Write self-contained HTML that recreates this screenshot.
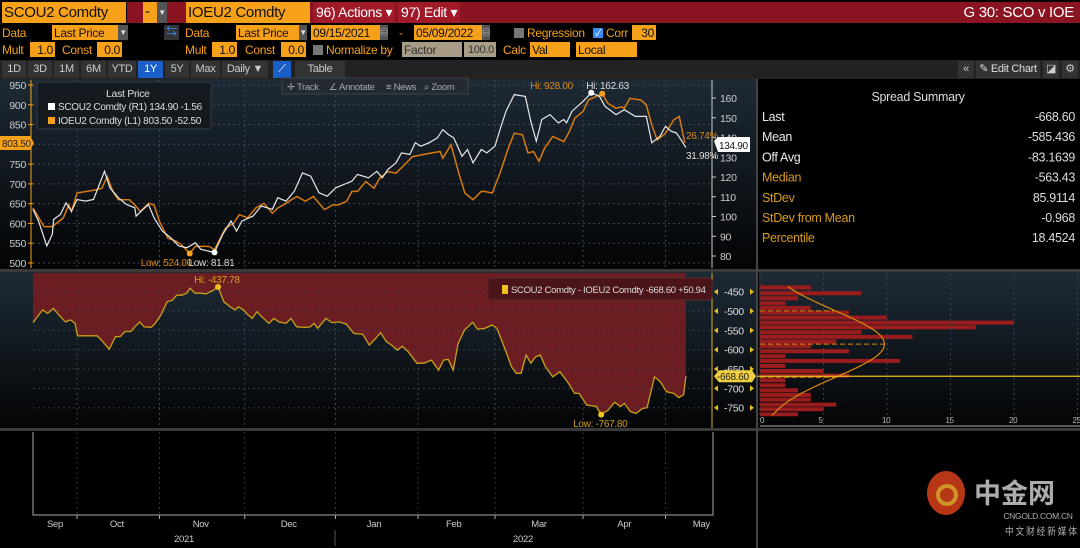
<!DOCTYPE html>
<html><head><meta charset="utf-8">
<style>
*{margin:0;padding:0;box-sizing:border-box}
body{width:1080px;height:548px;background:#000;overflow:hidden;position:relative;font-family:"Liberation Sans","Noto Sans CJK SC",sans-serif;font-size:12px;letter-spacing:-0.3px;color:#f5a01a}
.a{position:absolute;white-space:nowrap;line-height:1}
.ob{position:absolute;background:#f7a11a;color:#111;padding:1px 2px;height:15px;line-height:14px;white-space:nowrap;overflow:hidden}
.tan{position:absolute;background:#a89c86;color:#333;padding:1px 2px;height:15px;line-height:14px;overflow:hidden}
.dd{position:absolute;background:#555;color:#ddd;width:10px;height:15px;font-size:8px;text-align:center;line-height:15px}
.cb{position:absolute;width:10px;height:10px;background:#777}
.tab{position:absolute;top:61px;height:17px;line-height:17px;color:#ccc;font-size:11px;text-align:center;background:#333;white-space:nowrap;overflow:hidden}
svg{position:absolute;left:0;top:0}
</style></head><body>
<div class="a" style="left:127px;top:2px;width:953px;height:21px;background:#8a1422"></div>
<div class="ob" style="left:2px;top:2px;width:124px;height:21px;font-size:15px;line-height:20px">SCOU2 Comdty</div>
<div class="ob" style="left:143px;top:2px;width:14px;height:21px;font-size:15px;line-height:18px">-</div>
<div class="dd" style="left:157px;top:2px;height:21px;line-height:21px">▼</div>
<div class="ob" style="left:186px;top:2px;width:124px;height:21px;font-size:15px;line-height:20px">IOEU2 Comdty</div>
<div class="a" style="left:313px;top:2px;width:82px;height:21px;background:#a01a2a;color:#fff;font-size:14px;line-height:21px;padding-left:3px">96) Actions ▾</div>
<div class="a" style="left:398px;top:2px;width:62px;height:21px;background:#a01a2a;color:#fff;font-size:14px;line-height:21px;padding-left:3px">97) Edit ▾</div>
<div class="a" style="right:6px;top:5px;color:#fff;font-size:15px">G 30: SCO v IOE</div>

<div class="a" style="left:2px;top:27px">Data</div>
<div class="ob" style="left:52px;top:25px;width:66px">Last Price</div>
<div class="dd" style="left:118px;top:25px">▼</div>
<div class="a" style="left:164px;top:25px;width:15px;height:15px;background:#333;color:#3a8ef0;font-size:11px;text-align:center;line-height:15px">⇆</div>
<div class="a" style="left:185px;top:27px">Data</div>
<div class="ob" style="left:236px;top:25px;width:63px">Last Price</div>
<div class="dd" style="left:299px;top:25px;width:8px">▼</div>
<div class="ob" style="left:311px;top:25px;width:69px">09/15/2021</div>
<div class="dd" style="left:380px;top:25px;width:8px">▤</div>
<div class="a" style="left:399px;top:27px">-</div>
<div class="ob" style="left:414px;top:25px;width:68px">05/09/2022</div>
<div class="dd" style="left:482px;top:25px;width:8px">▤</div>
<div class="cb" style="left:514px;top:28px"></div>
<div class="a" style="left:527px;top:27px">Regression</div>
<div class="cb" style="left:593px;top:28px;background:#3a8ef0;color:#fff;font-size:9px;line-height:10px;text-align:center">✓</div>
<div class="a" style="left:606px;top:27px">Corr</div>
<div class="ob" style="left:632px;top:25px;width:24px;text-align:right">30</div>

<div class="a" style="left:2px;top:44px">Mult</div>
<div class="ob" style="left:30px;top:42px;width:25px;text-align:right">1.0</div>
<div class="a" style="left:62px;top:44px">Const</div>
<div class="ob" style="left:97px;top:42px;width:25px;text-align:right">0.0</div>
<div class="a" style="left:185px;top:44px">Mult</div>
<div class="ob" style="left:212px;top:42px;width:25px;text-align:right">1.0</div>
<div class="a" style="left:245px;top:44px">Const</div>
<div class="ob" style="left:281px;top:42px;width:25px;text-align:right">0.0</div>
<div class="cb" style="left:313px;top:45px"></div>
<div class="a" style="left:326px;top:44px">Normalize by</div>
<div class="tan" style="left:402px;top:42px;width:60px">Factor</div>
<div class="tan" style="left:464px;top:42px;width:32px;text-align:right;font-size:11px">100.0</div>
<div class="a" style="left:503px;top:44px">Calc</div>
<div class="ob" style="left:530px;top:42px;width:40px">Val</div>
<div class="ob" style="left:576px;top:42px;width:61px">Local</div>

<div class="a" style="left:0;top:60px;width:1080px;height:19px;background:#222"></div>
<div class="tab" style="left:2px;width:24px">1D</div>
<div class="tab" style="left:28px;width:24px">3D</div>
<div class="tab" style="left:54px;width:25px">1M</div>
<div class="tab" style="left:81px;width:25px">6M</div>
<div class="tab" style="left:108px;width:28px">YTD</div>
<div class="tab" style="left:138px;width:25px;background:#1a5fc8;color:#fff">1Y</div>
<div class="tab" style="left:165px;width:24px">5Y</div>
<div class="tab" style="left:191px;width:29px">Max</div>
<div class="tab" style="left:222px;width:46px">Daily ▼</div>
<div class="tab" style="left:273px;width:18px;background:#1a5fc8;color:#fff">⟋</div>
<div class="tab" style="left:295px;width:50px">Table</div>
<div class="tab" style="left:958px;width:16px">«</div>
<div class="tab" style="left:976px;width:64px;color:#ddd">✎ Edit Chart</div>
<div class="tab" style="left:1043px;width:16px">◪</div>
<div class="tab" style="left:1062px;width:16px">⚙</div>

<svg id="chart" width="1080" height="548"></svg>

<script>
// ---- data ----
const ioeDays=[0,4,7,11,13,14,16,23,25,27,29,31,35,37,39,42,44,46,49,52,54,57,59,64,66,70,73,75,78,81,84,87,89,92,94,96,99,102,104,106,109,111,114,116,118,121,124,126,129,132,135,138,141,145,148,149,152,155,157,160,163,164,167,170,173,175,178,180,182,184,186,189,193,195,197,200,202,207,209,212,214,215,217,221,223,225,227,230,233,235,237];
const ioeVals=[639,592,592,614,647,630,677,685,689,719,681,660,660,647,630,651,647,605,563,555,546,524,542,542,534,588,601,622,614,639,651,626,639,651,660,668,656,668,651,635,647,647,656,681,681,706,689,714,731,727,748,769,773,778,782,765,799,723,677,660,681,681,677,731,794,828,824,778,782,757,790,820,807,832,866,883,912,928,904,891,895,891,916,912,900,849,811,828,862,870,803.5];
const scoDays=[0,2,5,7,7.5,10,12,14,16,19,22,26,28,31,34,37,37.5,40,42,44,47,50,53,56,59,61,66,69,72,74,76,80,83,87,89,92,95,98,101,104,107,110,113,116,118,122,125,127,129,132,134,137,139,141,144,147,149,151,153,156,158,160,163,165,168,170,172,175,179,181,183,185,188,191,193,194,196,200,203,206,208,212,215,219,223,225,228,230,232,234,236,237.4];
const scoVals=[103.6,97.7,85.1,91.0,98.5,101.1,106.9,102.7,108.6,107.8,108.6,122.9,114.5,109.5,106.1,104.4,100.2,103.6,106.1,99.4,92.6,89.3,85.1,84.2,86.7,83.4,81.81,91.0,97.7,92.6,97.7,100.2,105.3,103.6,109.5,107.8,112.8,122.1,120.4,112.0,110.3,114.5,116.2,117.9,121.3,119.6,122.9,119.6,123.8,127.2,132.2,131.4,137.3,135.6,137.3,139.8,144.0,141.5,139.8,130.5,133.9,127.2,133.9,132.2,135.6,144.8,153.3,161.7,160.8,148.2,138.1,149.1,151.6,147.4,149.1,147.4,153.3,158.3,162.63,160.8,155.8,151.6,154.1,150.7,150.7,137.3,140.6,145.7,143.2,142.3,138.1,134.9];
const sprDays=[0,3.5,5.3,7.4,10,11.8,13.6,15.3,16.2,23.3,25.4,27.7,30,31.7,33.5,35.6,37,38.8,40.4,43,44.4,46.5,48.8,50.6,52.3,54.1,55.9,57.1,58.9,61.2,62.9,65.6,67.3,69.4,71.7,73.5,74.7,76.5,78.2,79.7,81.4,83.2,85.8,87.6,89.4,92,93.8,95.9,99.1,100.8,102.2,103.5,106.5,108.7,111.4,114,116.7,119.9,122.3,124.6,126.4,128.5,130.4,132.5,134.3,136.4,139.6,142.2,144.9,147.5,149.3,151,152.8,154.6,156.9,159.9,161.6,164.3,166.9,168.7,171.3,174,175.7,177.5,179.3,181,182.8,184.5,186.3,189,191.6,193.4,195.1,196.9,198.6,201.3,204.8,206.6,209.2,211.5,213.6,215,217.2,219.3,221.6,223.3,226,228.1,230.4,233,234.8,236.6,237.4];
const sprVals=[-530,-497,-506,-493,-515,-528,-523,-532,-564,-564,-579,-599,-566,-566,-553,-553,-541,-528,-541,-542,-532,-510,-476,-472,-459,-459,-454,-441,-454,-454,-456,-446,-437.78,-476,-489,-497,-489,-497,-510,-519,-502,-515,-532,-519,-528,-532,-519,-541,-542,-541,-532,-545,-519,-530,-528,-534,-558,-560,-588,-571,-556,-579,-588,-601,-591,-605,-635,-635,-627,-653,-627,-625,-653,-584,-549,-529,-547,-545,-536,-545,-592,-644,-661,-661,-614,-635,-618,-614,-644,-670,-657,-674,-691,-713,-713,-743,-747,-767.8,-756,-736,-747,-739,-760,-765,-752,-750,-670,-683,-709,-713,-724,-717,-668.6];
const histCenters=[-439,-454,-467,-480,-492,-504,-517,-530,-542,-555,-567,-579,-591,-604,-617,-629,-642,-655,-667,-679,-692,-705,-717,-729,-742,-754,-767];
const histCounts=[4,8,3,2,4,7,10,20,17,8,12,6,4,7,2,11,2,5,7,2,2,3,4,4,6,5,3];
const leftTicks=[500,550,600,650,700,750,800,850,900,950];
const rightTicks=[80,90,100,110,120,130,140,150,160];
const sprTicks=[-450,-500,-550,-600,-650,-700,-750];
const histTicks=[0,5,10,15,20,25];
const monthGridDays=[16,46,77,110,140,168,200,230];
const monthLabels=['Sep','Oct','Nov','Dec','Jan','Feb','Mar','Apr','May'];
const monthLabelDays=[8,30.5,61,93,124,153,184,215,243];
const statLabels=['Last','Mean','Off Avg','Median','StDev','StDev from Mean','Percentile'];
const statValues=['-668.60','-585.436','-83.1639','-563.43','85.9114','-0.968','18.4524'];
const spreadMean=-585.436, spreadSd=85.9114, spreadLast=-668.6;

// ---- scales ----
const xD=d=>33+d*2.75;
const yL=v=>85+(950-v)*178/450;
const yR=v=>98+(160-v)*158/80;
const yS=v=>291.7+(-450-v)*116/300;
const xH=c=>760+c*12.7;

const NS='http://www.w3.org/2000/svg';
const svg=document.getElementById('chart');
function mk(tag,attrs,parent){const el=document.createElementNS(NS,tag);for(const k in attrs)el.setAttribute(k,attrs[k]);(parent||svg).appendChild(el);return el;}
function txt(x,y,s,attrs,parent){const el=mk('text',Object.assign({x:x,y:y,'font-family':'Liberation Sans, sans-serif','font-size':11,'letter-spacing':'-0.3'},attrs||{}),parent);el.textContent=s;return el;}

const defs=mk('defs',{});
defs.innerHTML='<linearGradient id="bg" x1="0" y1="0" x2="0" y2="1"><stop offset="0" stop-color="#1e2a36"/><stop offset="1" stop-color="#030405"/></linearGradient>';

let el;
el=mk('rect',{x:0,y:79,width:757,height:190,fill:'url(#bg)'});

el=mk('rect',{x:0,y:272,width:757,height:156,fill:'url(#bg)'});

el=mk('rect',{x:759,y:272,width:321,height:156,fill:'url(#bg)'});

mk('rect',{x:0,y:269,width:1080,height:3,fill:'#3a3a3a'});
mk('rect',{x:0,y:428,width:1080,height:3,fill:'#3a3a3a'});
mk('rect',{x:756,y:79,width:2,height:469,fill:'#444'});

leftTicks.forEach(v=>{mk('line',{x1:33,x2:712,y1:yL(v),y2:yL(v),stroke:'#3c4650','stroke-dasharray':'2,3','stroke-width':1});});
monthGridDays.forEach(d=>{
 mk('line',{x1:xD(d),x2:xD(d),y1:80,y2:268,stroke:'#3c4650','stroke-dasharray':'2,3'});
 mk('line',{x1:xD(d),x2:xD(d),y1:273,y2:427,stroke:'#3c4650','stroke-dasharray':'2,3'});
 mk('line',{x1:xD(d),x2:xD(d),y1:432,y2:515,stroke:'#333','stroke-dasharray':'2,3'});
});
mk('line',{x1:31,x2:31,y1:80,y2:268,stroke:'#f7a11a'});
leftTicks.forEach(v=>{
 mk('line',{x1:28,x2:33,y1:yL(v),y2:yL(v),stroke:'#f7a11a'});
 el=txt(26,yL(v)+4,String(v),{fill:'#ccc','text-anchor':'end','font-size':10.5});
 
});
mk('line',{x1:712,x2:712,y1:80,y2:268,stroke:'#ccc'});
rightTicks.forEach(v=>{
 mk('line',{x1:712,x2:716,y1:yR(v),y2:yR(v),stroke:'#ccc'});
 el=txt(720,yR(v)+4,String(v),{fill:'#ccc','font-size':10.5});
 
});
function path(days,vals,sx,sy){return days.map((d,i)=>(i?'L':'M')+sx(d).toFixed(1)+','+sy(vals[i]).toFixed(1)).join('');}
el=mk('path',{d:path(ioeDays,ioeVals,xD,yL),fill:'none',stroke:'#d77a10','stroke-width':1.5});

el=mk('path',{d:path(scoDays,scoVals,xD,yR),fill:'none',stroke:'#e8e8e8','stroke-width':1.2});

const iMin=ioeVals.indexOf(Math.min(...ioeVals)),iMax=ioeVals.indexOf(Math.max(...ioeVals));
const sMin=scoVals.indexOf(Math.min(...scoVals)),sMax=scoVals.indexOf(Math.max(...scoVals));
mk('circle',{cx:xD(ioeDays[iMin]),cy:yL(ioeVals[iMin]),r:3,fill:'#f7a11a'});
mk('circle',{cx:xD(ioeDays[iMax]),cy:yL(ioeVals[iMax]),r:3,fill:'#f7a11a'});
mk('circle',{cx:xD(scoDays[sMin]),cy:yR(scoVals[sMin]),r:3,fill:'#fff'});
mk('circle',{cx:xD(scoDays[sMax]),cy:yR(scoVals[sMax]),r:3,fill:'#fff'});
txt(xD(ioeDays[iMin])-49,266,'Low: '+ioeVals[iMin].toFixed(2),{fill:'#d98a1a','font-size':10});
txt(xD(scoDays[sMin])-26,266,'Low: '+scoVals[sMin].toFixed(2),{fill:'#ddd','font-size':10});
txt(xD(ioeDays[iMax])-72,89,'Hi: '+ioeVals[iMax].toFixed(2),{fill:'#d98a1a','font-size':10});
txt(xD(scoDays[sMax])-5,89,'Hi: '+scoVals[sMax].toFixed(2),{fill:'#ddd','font-size':10});
txt(686,139,'26.74%',{fill:'#d98a1a','font-size':10});
txt(686,159,'31.98%',{fill:'#ddd','font-size':10});
mk('path',{d:'M0,136h30l4,7l-4,7h-30z',fill:'#f7a11a'});
txt(2,147,'803.50',{fill:'#222','font-size':10});
mk('path',{d:'M714,141l4,-4h32v15h-32z',fill:'#fff'});
txt(719,149,'134.90',{fill:'#111','font-size':10});
const tb=mk('g',{});
mk('rect',{x:282,y:78,width:186,height:16,fill:'#232a31',stroke:'#3a434c'},tb);
[['✛ Track',287,'track-button'],['∠ Annotate',329,'annotate-button'],['≡ News',386,'news-button'],['⌕ Zoom',424,'zoom-button']].forEach(t=>{
 const b=txt(t[1],90,t[0],{fill:'#aaa','font-size':9.5},tb);
 
});
const lg=mk('g',{});
mk('rect',{x:37,y:82,width:174,height:47,rx:3,fill:'#141a20',stroke:'#333b44'},lg);
txt(106,97,'Last Price',{fill:'#ddd','font-size':10.5},lg);
mk('rect',{x:48,y:103,width:7,height:7,fill:'#fff'},lg);
el=txt(58,110,'SCOU2 Comdty  (R1) 134.90  -1.56',{fill:'#ddd','font-size':10},lg);

mk('rect',{x:48,y:117,width:7,height:7,fill:'#f7a11a'},lg);
el=txt(58,124,'IOEU2 Comdty  (L1) 803.50  -52.50',{fill:'#ddd','font-size':10},lg);


// spread panel
const sp=path(sprDays,sprVals,xD,yS);
const spreadTop=273;
el=mk('path',{d:'M'+xD(sprDays[0])+','+spreadTop+sp.replace(/^M/,'L')+'L'+xD(sprDays[sprDays.length-1])+','+spreadTop+'Z',fill:'#6b1d22'});

sprTicks.forEach(v=>mk('line',{x1:33,x2:712,y1:yS(v),y2:yS(v),stroke:'#3c4650','stroke-dasharray':'2,3','opacity':0.8}));
el=mk('path',{d:sp,fill:'none',stroke:'#c8a018','stroke-width':1.3});

const pMax=sprVals.indexOf(Math.max(...sprVals)),pMin=sprVals.indexOf(Math.min(...sprVals));
mk('circle',{cx:xD(sprDays[pMax]),cy:yS(sprVals[pMax]),r:3,fill:'#f0c020'});
mk('circle',{cx:xD(sprDays[pMin]),cy:yS(sprVals[pMin]),r:3,fill:'#f0c020'});
txt(xD(sprDays[pMax])-24,283,'Hi: '+sprVals[pMax].toFixed(2),{fill:'#d0a020','font-size':10});
txt(xD(sprDays[pMin])-28,427,'Low: '+sprVals[pMin].toFixed(2),{fill:'#d0a020','font-size':10});
mk('line',{x1:712,x2:712,y1:273,y2:428,stroke:'#d8b020'});
sprTicks.forEach(v=>{
 mk('path',{d:`M714,${yS(v)}l4,-3v6z`,fill:'#e8c020'});
 mk('path',{d:`M754,${yS(v)}l-4,-3v6z`,fill:'#e8c020'});
 const t=txt(724,yS(v)+4,String(v),{fill:'#ddd','font-size':10.5});
 
});
const sl=mk('g',{});
mk('rect',{x:488,y:278,width:224,height:22,rx:3,fill:'#4a1418',stroke:'#5a2a2e'},sl);
mk('rect',{x:502,y:285,width:6,height:9,fill:'#f0c020'},sl);
txt(511,293,'SCOU2 Comdty - IOEU2 Comdty  -668.60  +50.94',{fill:'#ddd','font-size':9.5},sl);
// histogram
const bh=12.5*116/300;
histCenters.forEach((c,i)=>{
 const r=mk('rect',{x:760,y:yS(c)-bh/2+0.4,width:histCounts[i]*12.7,height:bh-0.8,fill:'#9a1c1c'});
 
 
});
let cp='';const peak=9.8;
for(let v=-437;v>=-770;v-=3){const c=peak*Math.exp(-0.5*Math.pow((v-spreadMean)/spreadSd,2));cp+=(cp?'L':'M')+xH(c).toFixed(1)+','+yS(v).toFixed(1);}
el=mk('path',{d:cp,fill:'none',stroke:'#d88a10','stroke-width':1.2});

[spreadMean+spreadSd,spreadMean,spreadMean-spreadSd].forEach(v=>{
 const c=peak*Math.exp(-0.5*Math.pow((v-spreadMean)/spreadSd,2));
 mk('line',{x1:760,x2:xH(c),y1:yS(v),y2:yS(v),stroke:'#d88a10','stroke-dasharray':'5,3'});
});
el=mk('line',{x1:757,x2:1080,y1:yS(spreadLast),y2:yS(spreadLast),stroke:'#e8c020','stroke-width':1.2});

mk('path',{d:`M714,${yS(spreadLast)}l5,-6h33l4,6l-4,6h-33z`,fill:'#f0d040'});
txt(717,yS(spreadLast)+4,'-668.60',{fill:'#222','font-size':10});
mk('line',{x1:760,x2:1080,y1:426,y2:426,stroke:'#aaa'});
histTicks.forEach(t=>{
 mk('line',{x1:xH(t),x2:xH(t),y1:273,y2:424,stroke:'#3a444e','stroke-dasharray':'2,3'});
 const h=txt(xH(t)-(t?5:0),423,String(t),{fill:'#bbb','font-size':8});
 
});
// bottom panel
mk('polyline',{points:'33,432 33,515 713,515 713,432',fill:'none',stroke:'#aaa'});
monthLabels.forEach((m,i)=>{
 const t=txt(xD(monthLabelDays[i]),527,m,{fill:'#ccc','font-size':9.5,'text-anchor':'middle'});
 
});
monthGridDays.forEach(d=>mk('line',{x1:xD(d),x2:xD(d),y1:515,y2:519,stroke:'#aaa'}));
txt(184,542,'2021',{fill:'#ccc','font-size':9.5,'text-anchor':'middle'});
txt(523,542,'2022',{fill:'#ccc','font-size':9.5,'text-anchor':'middle'});
mk('line',{x1:335,x2:335,y1:530,y2:546,stroke:'#555'});
// stats
txt(918,101,'Spread Summary',{fill:'#ddd','font-size':12.5,'text-anchor':'middle'});
statLabels.forEach((l,i)=>{
 const col=i<3?'#e8e8e8':'#d99a1a';
 const a=txt(762,121+i*20.2,l,{fill:col,'font-size':12.5});
 
 const b=txt(1075,121+i*20.2,statValues[i],{fill:'#ddd','font-size':12.5,'text-anchor':'end'});
 
});
// watermark
const wm=mk('g',{opacity:0.85});
mk('ellipse',{cx:946,cy:493,rx:19,ry:22,fill:'#d8401a'},wm);
mk('circle',{cx:947,cy:495,r:9,fill:'none',stroke:'#f5b030','stroke-width':4},wm);
txt(974,503,'中金网',{fill:'#ccc','font-size':27,'font-family':'Noto Sans CJK SC, sans-serif','font-weight':'bold','letter-spacing':'0'},wm);
txt(1038,519,'CNGOLD.COM.CN',{fill:'#ccc','font-size':8.5,'text-anchor':'middle'},wm);
txt(1005,535,'中 文 财 经 新 媒 体',{fill:'#ccc','font-size':10,'font-family':'Noto Sans CJK SC, sans-serif','letter-spacing':'0',textLength:72,lengthAdjust:'spacingAndGlyphs'},wm);
</script>
</body></html>
